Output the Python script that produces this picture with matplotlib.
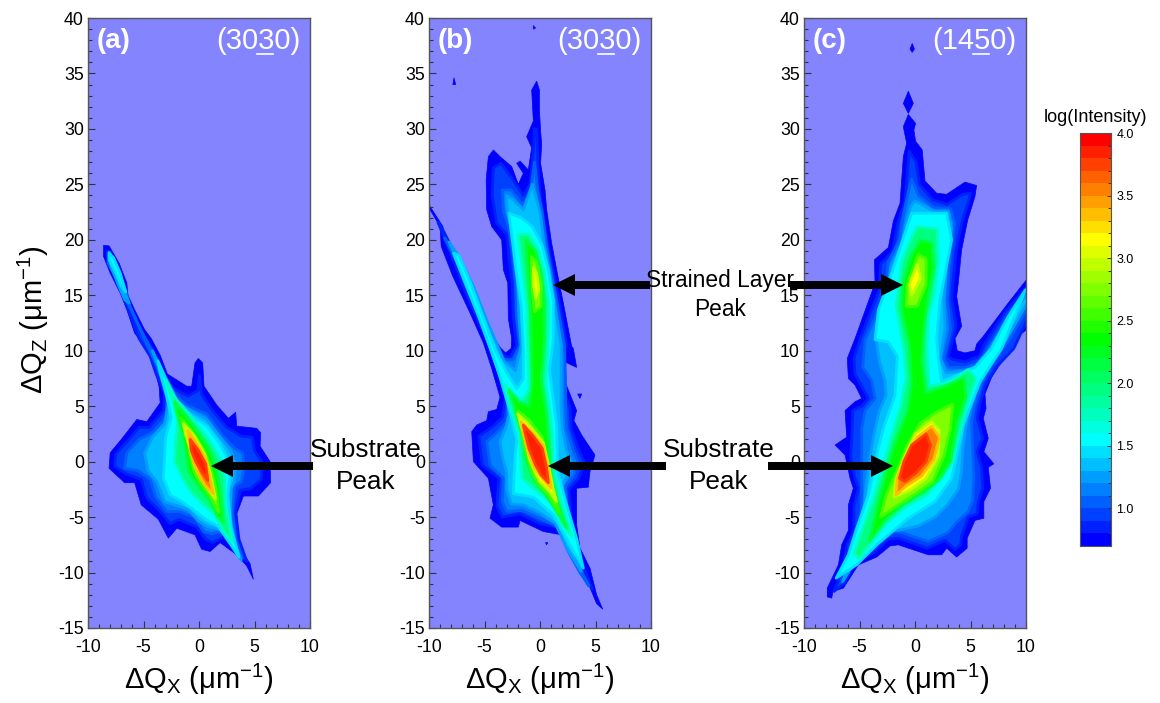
import numpy as np
import matplotlib
matplotlib.use("Agg")
import matplotlib.pyplot as plt
from matplotlib.colors import LinearSegmentedColormap, Normalize
from matplotlib.patches import FancyArrow
from matplotlib.ticker import MultipleLocator

plt.rcParams['font.family'] = ['Liberation Sans', 'DejaVu Sans']
plt.rcParams['mathtext.fontset'] = 'custom'
plt.rcParams['mathtext.rm'] = 'Liberation Sans'
plt.rcParams['mathtext.it'] = 'Liberation Sans'
plt.rcParams['mathtext.bf'] = 'Liberation Sans:bold'
plt.rcParams['axes.unicode_minus'] = False

W, H = 1160, 703
BG = '#8484ff'

# outlines, (dQx, dQz), one list per log(intensity) level
# panel a
a_075 = [(-8.6,19.5),(-8.1,19.45),(-7.2,17.9),(-6.5,16.1),(-6.4,15.0),(-5.8,13.7),(-4.9,11.9),(-4.3,11.1),(-3.5,9.6),(-2.85,7.9),(-1.1,6.8),(-0.66,6.8),(-0.36,8.9),(-0.06,9.3),(0.33,8.9),(0.45,6.8),(1.6,5.1),(2.65,3.9),(3.3,4.45),(3.4,3.2),(5.2,3.0),(5.55,2.6),(5.5,1.4),(6.4,0.0),(6.45,-1.9),(5.35,-3.1),(4.0,-3.1),(3.4,-4.7),(3.7,-7.8),(4.6,-9.2),(4.9,-10.6),(4.3,-9.4),(3.4,-8.4),(1.9,-7.3),(1.0,-8.1),(0.24,-7.9),(-0.36,-6.6),(-2.0,-6.0),(-2.76,-6.9),(-3.66,-5.2),(-5.2,-3.9),(-5.8,-1.9),(-6.7,-1.9),(-8.1,-0.6),(-8.0,0.8),(-7.0,2.0),(-5.6,3.8),(-4.7,3.6),(-3.5,5.3),(-3.6,6.8),(-4.0,8.3),(-4.7,10.1),(-5.8,11.6),(-6.5,13.7),(-7.1,15.2),(-8.0,17.0),(-8.6,18.5)]
a_105 = [(-8.3,19.0),(-7.6,17.6),(-6.9,15.8),(-6.6,14.8),(-6.1,13.5),(-5.2,11.6),(-4.4,10.5),(-3.8,9.4),(-3.3,7.9),(-2.3,6.6),(-1,5.9),(-0.1,6.4),(0.05,7.8),(0.2,6.1),(1.3,4.5),(2.5,3.1),(3.8,2.3),(4.8,2.2),(5.0,1.0),(5.7,-0.1),(5.6,-1.6),(4.7,-2.4),(3.7,-2.6),(3.3,-4.5),(3.6,-7),(4.3,-9),(3.6,-8.1),(2.2,-6.8),(1.2,-7.3),(0.6,-7.0),(-0.2,-5.9),(-1.8,-5.2),(-2.6,-5.6),(-3.4,-4.6),(-4.7,-3.3),(-5.2,-1.6),(-6.6,-1.1),(-7.6,-0.4),(-7.5,0.7),(-6.4,1.9),(-5.4,3.1),(-4.5,3.1),(-3.2,4.6),(-3.1,6.2),(-3.9,8.0),(-4.4,9.5),(-5.4,11.1),(-6.2,13.3),(-6.9,15.1),(-7.6,16.8),(-8.2,18.2)]
a_130 = [(-8.1,18.9),(-7.2,17.2),(-6.6,15.4),(-6.2,14),(-5.6,12.6),(-4.0,9.5),(-3.0,7.6),(-2,5.8),(-0.9,5),(0.7,4.3),(2.0,2.5),(3.2,1.2),(3.9,0.8),(4.1,-0.5),(3.8,-1.8),(3.2,-2.2),(3.0,-4.5),(3.3,-7),(3.9,-8.7),(3.3,-7.9),(2.2,-6.3),(1.1,-6.5),(0.4,-6.3),(-0.4,-5.0),(-1.8,-4.5),(-2.9,-4.5),(-3.9,-3.2),(-4.4,-1.6),(-5.5,-0.8),(-6.7,-0.6),(-6.5,0.8),(-5.4,2),(-4.1,2.7),(-3,4),(-2.8,6.2),(-3.5,8.0),(-4.3,9.7),(-5.9,13.3),(-6.7,14.8),(-7.4,16.4),(-8.2,17.9)]
a_125s = [(-8.1,18.9),(-7.4,17.6),(-6.8,15.6),(-6.3,14.3),(-6.7,14.6),(-7.3,16),(-7.9,17.5)]
a_125 = [(-4.2,10),(-3.3,8.1),(-2.2,5.5),(-0.9,4.7),(0.7,3.8),(2.0,2.1),(2.9,0.9),(3.3,-0.3),(3.2,-1.8),(2.9,-2.4),(2.8,-5),(3.3,-7.5),(3.8,-8.9),(3.1,-7.7),(2.0,-6.1),(0.9,-5.9),(0,-5.4),(-1,-4.3),(-2.2,-3.9),(-3.1,-3.6),(-3.8,-1.8),(-4.6,-0.8),(-4.9,0.8),(-4.2,2.2),(-3.1,3.4),(-2.7,5.6),(-3.4,7.8)]
a_155s = [(-8.1,18.8),(-7.7,18.4),(-7.1,17),(-6.6,15.3),(-7.0,15.8),(-7.5,17),(-8.1,18.2)]
a_155 = [(-3.7,9.1),(-3.0,7.5),(-1.9,5.3),(-0.8,4.2),(0.7,3.2),(1.9,1.6),(2.6,0.2),(2.8,-1.2),(2.6,-3),(2.9,-6),(3.6,-8.6),(2.8,-7.4),(1.7,-5.8),(0.6,-5.2),(-0.7,-4.2),(-1.7,-3.5),(-2.6,-3),(-3.2,-1.5),(-3.1,0.5),(-3.0,2.2),(-2.5,4.0),(-2.9,5.8),(-3.5,8.0)]
a_195 = [(-3.0,7.3),(-2.2,5.8),(-1,4.4),(0.2,2.9),(1.2,1.5),(2.0,0),(2.3,-1.5),(2.4,-4),(3.0,-7.2),(2.3,-6.4),(1.4,-4.8),(0.3,-3.8),(-0.7,-2.8),(-1.5,-1.5),(-2.2,0),(-2.1,2.0),(-1.9,3.6),(-2.3,5.2)]
a_235 = [(-2.2,5.4),(-1.0,3.9),(0,2.5),(0.9,1.2),(1.5,-0.3),(1.9,-2.5),(2.2,-5.5),(1.7,-5),(0.9,-3.4),(0.0,-2.3),(-0.9,-1.0),(-1.2,0.8),(-1.5,2.6),(-1.9,4.0)]
a_280 = [(-1.6,3.9),(-0.6,2.7),(0.4,1.1),(1.0,-0.3),(1.5,-2.3),(1.8,-4.6),(1.0,-3.1),(0.3,-2.2),(-0.4,-1),(-0.8,0.5),(-1.1,2.2)]
a_320 = [(-1.4,3.4),(-0.4,2.3),(0.5,0.7),(1.0,-1),(1.5,-3.4),(0.9,-2.6),(0.2,-1.6),(-0.4,-0.4),(-0.8,1.2),(-1.2,2.4)]
a_355 = [(-1.0,2.8),(-0.2,1.6),(0.6,0.2),(0.9,-1.2),(1.3,-2.9),(0.6,-2.2),(0,-1.2),(-0.5,0),(-0.8,1.4)]
a_385 = [(-0.8,2.0),(-0.1,1.1),(0.6,-0.2),(0.8,-1.7),(0.3,-1),(-0.3,0),(-0.7,1.0)]
a_levels = [0.75, 0.9, 1.1, 1.3, 1.3, 1.55, 1.55, 1.95, 2.35, 2.8, 3.2, 3.55, 3.85]
a_polys = [a_075, a_105, a_130, a_125s, a_125, a_155s, a_155, a_195, a_235, a_280, a_320, a_355, a_385]

# panel b
b_075 = [(-0.3,34.3),(-0.05,33.5),(-0.05,31.7),(0.05,29.9),(0.15,28.6),(0.05,26.9),(0.45,24.5),(0.6,22.7),(1.05,19.7),(1.5,17.3),(2.1,14.3),(2.85,10.4),(3.0,10.2),(3.3,8.5),(2.0,9.1),(2.25,7.2),(3.3,4.6),(3.05,3.7),(3.75,2.4),(4.95,0.6),(4.5,-0.9),(4.35,-2.3),(3.3,-2.4),(3.3,-5.7),(3.6,-7.8),(4.5,-9.6),(5.1,-12.0),(5.65,-13.3),(5.1,-12.8),(3.9,-9.9),(2.85,-8.4),(1.95,-6.6),(0.3,-6.3),(-1.8,-5.3),(-1.95,-5.9),(-3.45,-5.9),(-4.5,-5.1),(-4.2,-3.9),(-4.65,-1.5),(-6.0,0.0),(-6.15,2.7),(-5.7,3.3),(-4.8,3.7),(-4.65,4.5),(-3.9,4.7),(-3.6,5.8),(-4.35,8.4),(-5.1,10.7),(-6.3,13.4),(-7.85,16.7),(-8.9,19.4),(-9.0,21.2),(-10.2,23.2),(-9.9,23.0),(-8.75,21.2),(-8.6,20.3),(-7.1,17.9),(-6.8,16.7),(-5.85,14.3),(-5.1,12.8),(-3.6,10.3),(-3.1,9.8),(-2.6,10.2),(-2.55,11.1),(-2.85,12.9),(-2.9,16.1),(-3.3,17.3),(-3.45,20.0),(-4.35,21.2),(-4.8,22.7),(-4.85,25.4),(-4.65,27.5),(-4.2,28.1),(-3.6,27.5),(-2.55,26.6),(-1.95,25),(-1.5,26.0),(-2.1,26.9),(-1.8,27.1),(-1.05,26.3),(-0.75,28.3),(-1.2,29.3),(-0.6,30.7),(-0.75,33.5)]
b_s1 = [(-7.75,34.6),(-7.6,34.0),(-7.85,34.0)]
b_s2 = [(-0.6,39.3),(-0.4,39.1),(-0.6,39.0)]
b_s3 = [(3.4,6.1),(3.75,6.1),(3.6,5.7)]
b_s4 = [(0.5,-7.3),(0.7,-7.3),(0.6,-7.5)]
b_105 = [(-0.3,30),(-0.2,27),(0.0,24),(0.3,22),(0.7,19.5),(1.2,17),(1.7,14.5),(2.4,10.5),(1.7,9),(1.8,7),(2.7,5),(2.8,3),(3.5,1),(4.0,0),(3.5,-1.5),(2.6,-2.5),(2.8,-5.5),(3.2,-7.8),(4.0,-9.7),(4.7,-11.5),(3.2,-8.6),(2.2,-7),(1.5,-5.9),(0,-5.6),(-1.8,-4.7),(-3.4,-5),(-3.9,-4),(-3.7,-1.5),(-5.2,-0.3),(-5.5,2.3),(-4.3,3.1),(-3.4,4),(-3.1,5.8),(-3.7,8.2),(-4.8,11),(-6.6,15),(-8.3,19.4),(-9.2,21.6),(-8.8,21),(-6.3,16),(-5,12.6),(-3.4,9.6),(-2.7,9.4),(-2.1,10.5),(-2.4,13),(-2.5,16),(-2.8,18.5),(-3,20.5),(-3.9,21.5),(-4.3,24),(-4.2,26.5),(-3.5,26.9),(-2.5,25.5),(-1.5,24),(-0.9,25),(-0.6,28),(-0.5,30)]
b_130 = [(-0.5,27),(-0.2,24.5),(0.2,22.5),(0.6,19.5),(1.0,17.2),(1.5,14.5),(2.2,10.5),(2.3,7.5),(2.3,5),(2.4,3),(3.0,1.0),(3.4,0),(3.0,-1.3),(2.3,-2.2),(2.5,-5.2),(3,-7.7),(3.8,-10),(4.4,-11.2),(3.6,-10),(2.5,-8),(1.6,-5.9),(0.2,-5.2),(-1.6,-4.4),(-3,-4.5),(-3.4,-3.6),(-3.3,-1.5),(-4.5,-0.3),(-4.8,1.8),(-3.8,2.7),(-3,3.6),(-2.8,5.6),(-3.4,8),(-4.4,10.8),(-6.2,14.8),(-7.6,18.2),(-8.6,20.2),(-7.4,18.3),(-6.1,15.8),(-4.9,12.6),(-3.3,9.2),(-2.4,9.2),(-1.8,10.5),(-2.1,13),(-2.2,16),(-2.4,18.5),(-2.8,21),(-3.3,22.6),(-3.4,24.5),(-2.6,24.5),(-1.6,23.2),(-0.9,24)]
b_125 = [(-0.7,25),(0,22.5),(0.4,19.5),(0.85,17.3),(1.3,14.5),(1.9,10.5),(1.9,7.5),(1.9,5),(2,3),(2.4,1),(2.8,0),(2.5,-1.2),(2,-2.2),(2.3,-5),(2.9,-7.5),(3.7,-9.9),(2.4,-7.8),(1.4,-5.6),(0,-4.6),(-1.5,-3.9),(-2.6,-3.8),(-3,-2.5),(-3,-1),(-3.4,0.5),(-3.6,1.8),(-3.1,3),(-2.8,4.2),(-2.9,5.6),(-3.7,8),(-4.7,10.8),(-6,14.5),(-7.4,18),(-8.2,19.8),(-7.3,18.5),(-6,15.8),(-4.7,12.5),(-3.2,9),(-2.2,8.2),(-1.7,10.5),(-1.9,13),(-2,16),(-2.2,18.5),(-2.6,21),(-3,23),(-3,24),(-2.4,23.6),(-1.5,22.7)]
b_155 = [(-2.8,22.4),(-1.7,22),(-0.7,21.2),(0.2,19.5),(0.75,17.3),(1.2,14.5),(1.2,11),(0.85,8.3),(1.2,5.5),(1.5,3.3),(1.6,-0.9),(2.4,-3.9),(3.3,-6.9),(3.9,-9.6),(2.7,-7.5),(1.2,-4.8),(-0.6,-3.2),(-2.4,-2.9),(-2.3,-0.5),(-2.1,2),(-2.7,4.5),(-3.6,7.6),(-4.4,10),(-5.5,13),(-6.7,16),(-7.8,18.8),(-7.3,18.6),(-6.2,16),(-5.1,13),(-4,10),(-3.1,8.2),(-2.1,6.6),(-1.5,7.5),(-1.5,10),(-1.7,14),(-2.2,17.5),(-2.5,20)]
b_195 = [(-2,20.5),(-1,20.5),(-0.1,19),(0.4,17),(0.8,14),(0.7,10),(0.5,7),(0.9,4.5),(1.1,2.5),(1.2,-0.5),(1.9,-3.5),(2.9,-6.8),(2.0,-5.7),(0.9,-3.6),(-0.5,-2.5),(-1.6,-1.5),(-1.8,1),(-1.9,2.5),(-2.7,5),(-3.2,7),(-2.6,6.2),(-1.6,5.5),(-1.0,6.5),(-1.1,10),(-1.2,14),(-1.6,17.5)]
b_235 = [(-1.3,20),(-0.4,19),(0.1,17),(0.4,14.5),(0.4,11),(0.1,7.5),(0.6,4),(0.8,1.5),(1.0,-1.5),(1.6,-3.8),(2.4,-6),(1.4,-4.3),(0.5,-3),(-0.5,-1.7),(-1.2,0),(-1.5,2),(-2,4),(-2.8,6.5),(-1.9,5.4),(-1,5),(-0.7,7),(-0.8,11),(-0.9,14.5),(-1.1,17)]
b_280t = [(-0.8,18.5),(-0.3,18),(0.1,16),(0.1,14),(-0.5,13.5),(-0.7,15.5)]
b_280 = [(-2,4.6),(-1,3.8),(0.2,2.2),(0.7,0),(1.0,-2),(1.7,-4.6),(0.8,-3),(0,-2.2),(-0.7,-1),(-1.3,1),(-1.7,3)]
b_315t = [(-0.6,17.5),(-0.3,17),(-0.1,15.5),(-0.4,14.8),(-0.6,16)]
b_315 = [(-2,4.3),(-1,3.3),(0.3,1.7),(0.8,-0.5),(1.2,-2.5),(1.5,-3.6),(0.8,-2.6),(-0.1,-1.7),(-0.9,0.1),(-1.4,2.2)]
b_355 = [(-1.7,3.6),(-0.7,2.6),(0.3,1.4),(0.7,-0.5),(1,-2.4),(0.2,-1.5),(-0.5,-0.5),(-1.1,1),(-1.5,2.6)]
b_385 = [(-1.5,3.3),(-0.6,2.3),(0.2,1.2),(0.6,-0.6),(0.75,-1.9),(0.1,-1.2),(-0.4,-0.3),(-1,1.2),(-1.35,2.6)]
b_levels = [0.75, 0.75, 0.75, 0.75, 0.75, 0.9, 1.1, 1.3, 1.55, 1.95, 2.35, 2.8, 2.8, 3.15, 3.15, 3.55, 3.85]
b_polys = [b_075, b_s1, b_s2, b_s3, b_s4, b_105, b_130, b_125, b_155, b_195, b_235, b_280t, b_280, b_315t, b_315, b_355, b_385]

# panel c
c_075 = [(-0.6,31.3),(0.05,30.5),(-0.1,29.9),(0.05,28.9),(0.65,28.1),(0.9,25.3),(1.95,24.2),(2.85,24.1),(4.5,25.2),(5.55,24.9),(5.4,23.9),(4.75,21.8),(4.2,19.1),(3.9,16.1),(3.75,14.9),(4.2,12.2),(3.6,11.1),(3.8,10.0),(4.5,9.8),(5.4,10.0),(5.55,10.6),(6.15,11.3),(8.4,14.3),(10.2,16.6),(10.2,12.0),(9.0,11.1),(7.8,9.0),(6.9,7.6),(6.3,6.1),(6.4,4.8),(6.15,3.9),(6.6,2.1),(6.2,0.9),(7.1,-0.2),(6.6,-0.5),(6.8,-2.4),(6.2,-3.6),(6.2,-5.1),(5.4,-5.3),(4.7,-6.9),(4.7,-7.8),(3.75,-8.6),(2.85,-7.8),(2.4,-8.4),(1.2,-8.4),(-1.5,-7.5),(-2.25,-7.6),(-3.45,-8.6),(-5.1,-9.3),(-6.45,-11.4),(-7.4,-11.7),(-7.5,-12.3),(-7.9,-12.2),(-7.9,-11.4),(-6.9,-9.3),(-6.6,-7.5),(-6.0,-6.2),(-6.0,-3.9),(-5.55,-2.4),(-5.85,-1.5),(-6.3,0.6),(-7.2,1.5),(-6.15,2.2),(-6.3,4.6),(-5.4,5.4),(-4.8,5.7),(-5.4,6.9),(-6.0,7.5),(-6.1,9.3),(-5.4,11.1),(-3.6,16.1),(-3.65,18.2),(-2.4,19.3),(-1.95,21.7),(-1.35,23.3),(-1.05,27.5),(-0.75,28.7),(-1.05,30.2)]
c_s1 = [(-0.6,33.4),(-0.15,32.3),(-0.6,31.4),(-1.05,32.3)]
c_s2 = [(-0.25,37.7),(-0.05,37.2),(-0.25,36.9),(-0.45,37.2)]
c_105 = [(-0.5,28),(0.1,27),(0.4,25),(1.6,23.6),(2.9,23.2),(4.3,24.1),(5.0,24.2),(4.8,23.4),(4.2,21.5),(3.7,19),(3.4,16),(3.3,14.7),(3.7,12.2),(3.0,9.5),(3.4,9.2),(4.5,9.0),(5.8,9.5),(6.2,10.5),(8.2,13.6),(10.2,15.9),(10.2,13),(8.9,10.2),(7.3,8.5),(6.3,6.8),(5.8,5),(5.6,3.9),(6.1,2.1),(5.6,0.9),(6,-0.5),(6.1,-2.4),(5.7,-3.6),(5.6,-4.7),(4.8,-5),(4.2,-6.7),(4.1,-7.5),(3.6,-7.9),(2.7,-7.1),(1.1,-7.8),(-1.5,-6.9),(-2.4,-7),(-3.7,-8.2),(-5.4,-9),(-6.3,-10.9),(-7.3,-11.7),(-6.5,-9.6),(-6.1,-7.5),(-5.5,-6.2),(-5.5,-4),(-5.1,-2.4),(-5.4,-1.5),(-5.8,0.4),(-5.7,2.0),(-5.6,4.6),(-4.8,5),(-4.2,5.7),(-4.9,7),(-5.4,7.9),(-5.5,9.3),(-4.9,11.2),(-3.2,15.5),(-3.1,17.8),(-2,19),(-1.5,21.7),(-0.9,23.4),(-0.6,27)]
c_130 = [(-0.3,25.5),(0.3,24),(1.7,22.9),(3.2,22.8),(3.6,21.5),(3.2,19),(3,16),(2.9,14.5),(3.2,12),(2.6,9.3),(3,8.5),(4.5,8.5),(5.5,8.8),(6.2,9.6),(8.2,12.8),(10.2,15.4),(10.2,14),(8.5,11),(7.2,9.2),(6.1,7.3),(5.4,5.2),(5.1,3.6),(5.2,1),(5.3,-1.5),(5.2,-3.5),(4.8,-4.5),(3.7,-5.5),(3,-6.4),(1.2,-7.2),(-1.5,-6.3),(-2.6,-6.4),(-4.1,-7.9),(-5.5,-8.6),(-6,-10),(-6.6,-10.9),(-5.8,-8.5),(-5.5,-7),(-4.9,-5.5),(-4.8,-3),(-4.8,0),(-4.8,3),(-4.5,4.6),(-3.6,5.7),(-3.9,7.3),(-4.7,8.5),(-4.5,11),(-2.7,15),(-2.4,18),(-1.4,20),(-1,22.5),(-0.6,24.3)]
c_125 = [(0,23.5),(1.7,22.6),(3,22.6),(3.3,21),(2.9,18.5),(2.7,16),(2.6,14.5),(2.7,12),(2.3,9.3),(2.8,8),(4.5,8.2),(5.5,8.6),(6.5,9.8),(8.4,12.9),(10.2,15.2),(10.2,14.5),(8.1,10.8),(6.8,9),(5.7,6.8),(4.9,5),(4.6,3.4),(4.3,1),(4.2,-0.8),(3.9,-2.5),(2.9,-3.9),(1.8,-5),(0.3,-5.8),(-1.5,-6.2),(-2.8,-6.1),(-4.2,-7.6),(-5.3,-8.8),(-6.5,-10.8),(-5.6,-8.5),(-5.1,-6.8),(-4.6,-4.5),(-4.4,-2),(-4.1,0),(-3.7,2.5),(-3.2,4.6),(-2.6,6),(-2.7,7.3),(-3.2,9),(-3.5,11),(-2.5,14.5),(-2.2,17.5),(-1.2,19.5),(-0.8,21.5),(-0.4,23)]
c_155 = [(-0.3,22.4),(2.85,22.4),(3.3,20),(2.25,14.6),(1.95,11.1),(2.1,9.3),(2.4,7.2),(5.4,8.5),(6.9,10.2),(8.4,13.1),(9.95,15.5),(7.8,10.2),(5.85,7.2),(4.35,3.3),(3.3,-1.5),(1.8,-3.6),(-0.6,-5.1),(-3.45,-7.5),(-5.25,-9.3),(-7.1,-10.5),(-6,-8.4),(-5.25,-6),(-4.2,-3),(-3.6,0),(-2.85,3),(-1.8,6),(-1.6,9.5),(-2.4,10.8),(-3.6,11),(-3.3,13.7),(-2.1,17)]
c_195 = [(0.2,21.2),(2,21),(2.1,18),(1.7,15),(1.2,13),(1.1,10.5),(1.2,8),(1.3,6.8),(3.2,7.2),(4.8,8.3),(5.5,7.5),(4.8,5.5),(4.0,2.5),(3.4,0),(2.5,-1.3),(1.2,-2.9),(-1,-4.2),(-2.5,-5.5),(-3.8,-7.1),(-5,-8.8),(-5.5,-8.3),(-4.7,-6),(-3.8,-3.5),(-2.9,-0.5),(-2.2,2),(-1.3,5),(-0.8,7.5),(-1,10),(-1.7,14),(-1.2,18),(-0.4,20)]
c_235 = [(0.5,20),(1.5,19.7),(1.7,17.5),(1.2,15),(0.8,12),(0.6,9),(1,6.2),(2.7,6.8),(4.4,7.6),(4.6,5.8),(3.8,3.5),(3.2,0),(2.2,-1.6),(1,-2.6),(-1,-3.8),(-2.6,-5.2),(-4.1,-7.2),(-3.4,-4),(-2.6,-1),(-1.8,1.7),(-0.7,4.5),(-0.3,7),(-0.5,10.5),(-1.2,13.7),(-1.1,16),(-0.4,18.5)]
c_280t = [(0.3,18.7),(1,18.3),(1,16),(0.2,14),(-0.8,14),(-0.7,16)]
c_280 = [(3.4,5.2),(3.2,3),(2.6,0.5),(1.6,-1.8),(0.2,-2.8),(-1.5,-3.9),(-3.1,-5),(-2.6,-3),(-1.5,-0.5),(-0.7,1.5),(0.5,3.5),(2,4.5)]
c_315t = [(0.2,17.8),(0.5,16.5),(-0.3,15),(-0.5,16)]
c_315 = [(1.5,3.6),(2.2,2.8),(2.1,0.5),(1,-1.5),(-0.5,-2.6),(-1.9,-3.2),(-1.7,-1.5),(-0.9,0.5),(0,2.5)]
c_355 = [(1.5,3.2),(2.2,2.2),(1.7,0.2),(0.6,-1.3),(-0.8,-2.2),(-1.7,-3),(-1.6,-1.5),(-0.9,0.3),(0.2,2.2)]
c_385 = [(1,2.5),(1.4,1.5),(1,0),(0.1,-1),(-0.9,-1.8),(-1.4,-1.5),(-1,0),(-0.3,1.5)]
c_levels = [0.75, 0.75, 0.75, 0.9, 1.1, 1.3, 1.55, 1.95, 2.35, 2.8, 2.8, 3.15, 3.15, 3.55, 3.85]
c_polys = [c_075, c_s1, c_s2, c_105, c_130, c_125, c_155, c_195, c_235, c_280t, c_280, c_315t, c_315, c_355, c_385]

panel_tags = ['(a)', '(b)', '(c)']
panel_refl = ['(3030)', '(3030)', '(1450)']
panel_left = [88, 429, 804]
cbar_edges = [0.7, 0.8, 0.9, 1.0, 1.1, 1.2, 1.3, 1.4, 1.5, 1.6, 1.7, 1.8, 1.9, 2.0, 2.1, 2.2, 2.3, 2.4, 2.5, 2.6, 2.7, 2.8, 2.9, 3.0, 3.1, 3.2, 3.3, 3.4, 3.5, 3.6, 3.7, 3.8, 3.9, 4.0]

cmap = LinearSegmentedColormap.from_list('rainbow5', ['#0000ff', '#00ffff', '#00ff00', '#ffff00', '#ff0000'], N=33)
norm = Normalize(0.7, 4.0)


def box(left, top, right, bottom):
    return [left / W, 1 - bottom / H, (right - left) / W, (bottom - top) / H]


fig = plt.figure(figsize=(W / 100, H / 100), dpi=100)

for i in range(3):
    left = panel_left[i]
    ax = fig.add_axes(box(left, 18, left + 222, 628))
    ax.set_facecolor(BG)
    levels = [a_levels, b_levels, c_levels][i]
    polys = [a_polys, b_polys, c_polys][i]
    steps = sorted(set(levels))
    for lev, poly in zip(levels, polys):
        xs, zs = zip(*poly)
        k = steps.index(lev)
        if k == 0:
            ax.fill(xs, zs, facecolor=cmap(norm(lev)), edgecolor=cmap(norm(lev)), lw=0.5, joinstyle='round')
        else:
            # soften the step to the level below with a mid colour edge
            mid = (lev + steps[k - 1]) / 2
            ax.fill(xs, zs, facecolor=cmap(norm(lev)), edgecolor=cmap(norm(mid)), lw=2.0, joinstyle='round')
    ax.set_xlim(-10, 10)
    ax.set_ylim(-15, 40)
    ax.xaxis.set_major_locator(MultipleLocator(5))
    ax.xaxis.set_minor_locator(MultipleLocator(1))
    ax.yaxis.set_major_locator(MultipleLocator(5))
    ax.yaxis.set_minor_locator(MultipleLocator(1))
    ax.tick_params(which='major', direction='in', length=5, width=0.8, labelsize=12.8, pad=3, color='#333333')
    ax.tick_params(which='minor', direction='in', length=3, width=0.8, color='#333333')
    ax.tick_params(axis='x', which='major', pad=8)
    for s in ax.spines.values():
        s.set_linewidth(1.0)
        s.set_color('#555555')
    ax.text(0.037, 0.962, panel_tags[i], transform=ax.transAxes, color='white', fontsize=20, fontweight='bold', va='center')
    ax.text(0.955, 0.962, panel_refl[i], transform=ax.transAxes, color='white', fontsize=21, ha='right', va='center')
    ax.set_xlabel(r'$\Delta$Q$_{\mathrm{X}}$ ($\mathrm{\mu}$m$^{\mathrm{-1}}$)', fontsize=21, labelpad=4)

fig.text(33 / W, 1 - 320 / H, r'$\Delta$Q$_{\mathrm{Z}}$ ($\mathrm{\mu}$m$^{\mathrm{-1}}$)', fontsize=21, rotation=90, ha='center', va='center')

# colour scale
cax = fig.add_axes(box(1080, 133, 1111, 546))
cax.pcolormesh([0, 1], cbar_edges, (np.array(cbar_edges[:-1]) + 0.05)[:, None], cmap=cmap, norm=norm)
cax.set_xticks([])
cax.yaxis.tick_right()
cax.yaxis.set_minor_locator(MultipleLocator(0.1))
cax.set_yticks([1.0, 1.5, 2.0, 2.5, 3.0, 3.5, 4.0])
cax.set_ylim(0.7, 4.0)
cax.tick_params(which='major', direction='in', length=3, width=0.7, labelsize=9, pad=4, color='#333333')
cax.tick_params(which='minor', direction='in', length=2, width=0.7, color='#333333')
for s in cax.spines.values():
    s.set_linewidth(0.8)
    s.set_color('#555555')
fig.text(1095.5 / W, 1 - 117 / H, 'log(Intensity)', fontsize=13, ha='center', va='center')

# arrows and labels sit over everything, in figure pixels
over = fig.add_axes([0, 0, 1, 1], facecolor='none')
over.set_xlim(0, W)
over.set_ylim(H, 0)
over.axis('off')
arrow_tail = [313, 650, 666, 790, 768]
arrow_tip = [211, 553, 548, 903, 893]
arrow_y = [466, 285, 466, 285, 466]
for x0, x1, y in zip(arrow_tail, arrow_tip, arrow_y):
    over.add_patch(FancyArrow(x0, y, x1 - x0, 0, width=8, head_width=22, head_length=22,
                              length_includes_head=True, color='black', lw=0))
over.text(366, 466, 'Substrate\nPeak', fontsize=18.8, ha='center', va='center', linespacing=1.45)
over.text(719, 466, 'Substrate\nPeak', fontsize=18.8, ha='center', va='center', linespacing=1.45)
over.text(720, 295, 'Strained Layer\nPeak', fontsize=16.4, ha='center', va='center', linespacing=1.3)
# underlined index in the reflection labels
for x0 in [257, 598, 973]:
    over.plot([x0, x0 + 16], [53.5, 53.5], color='white', lw=1.2)

fig.savefig('out.png', dpi=100)
